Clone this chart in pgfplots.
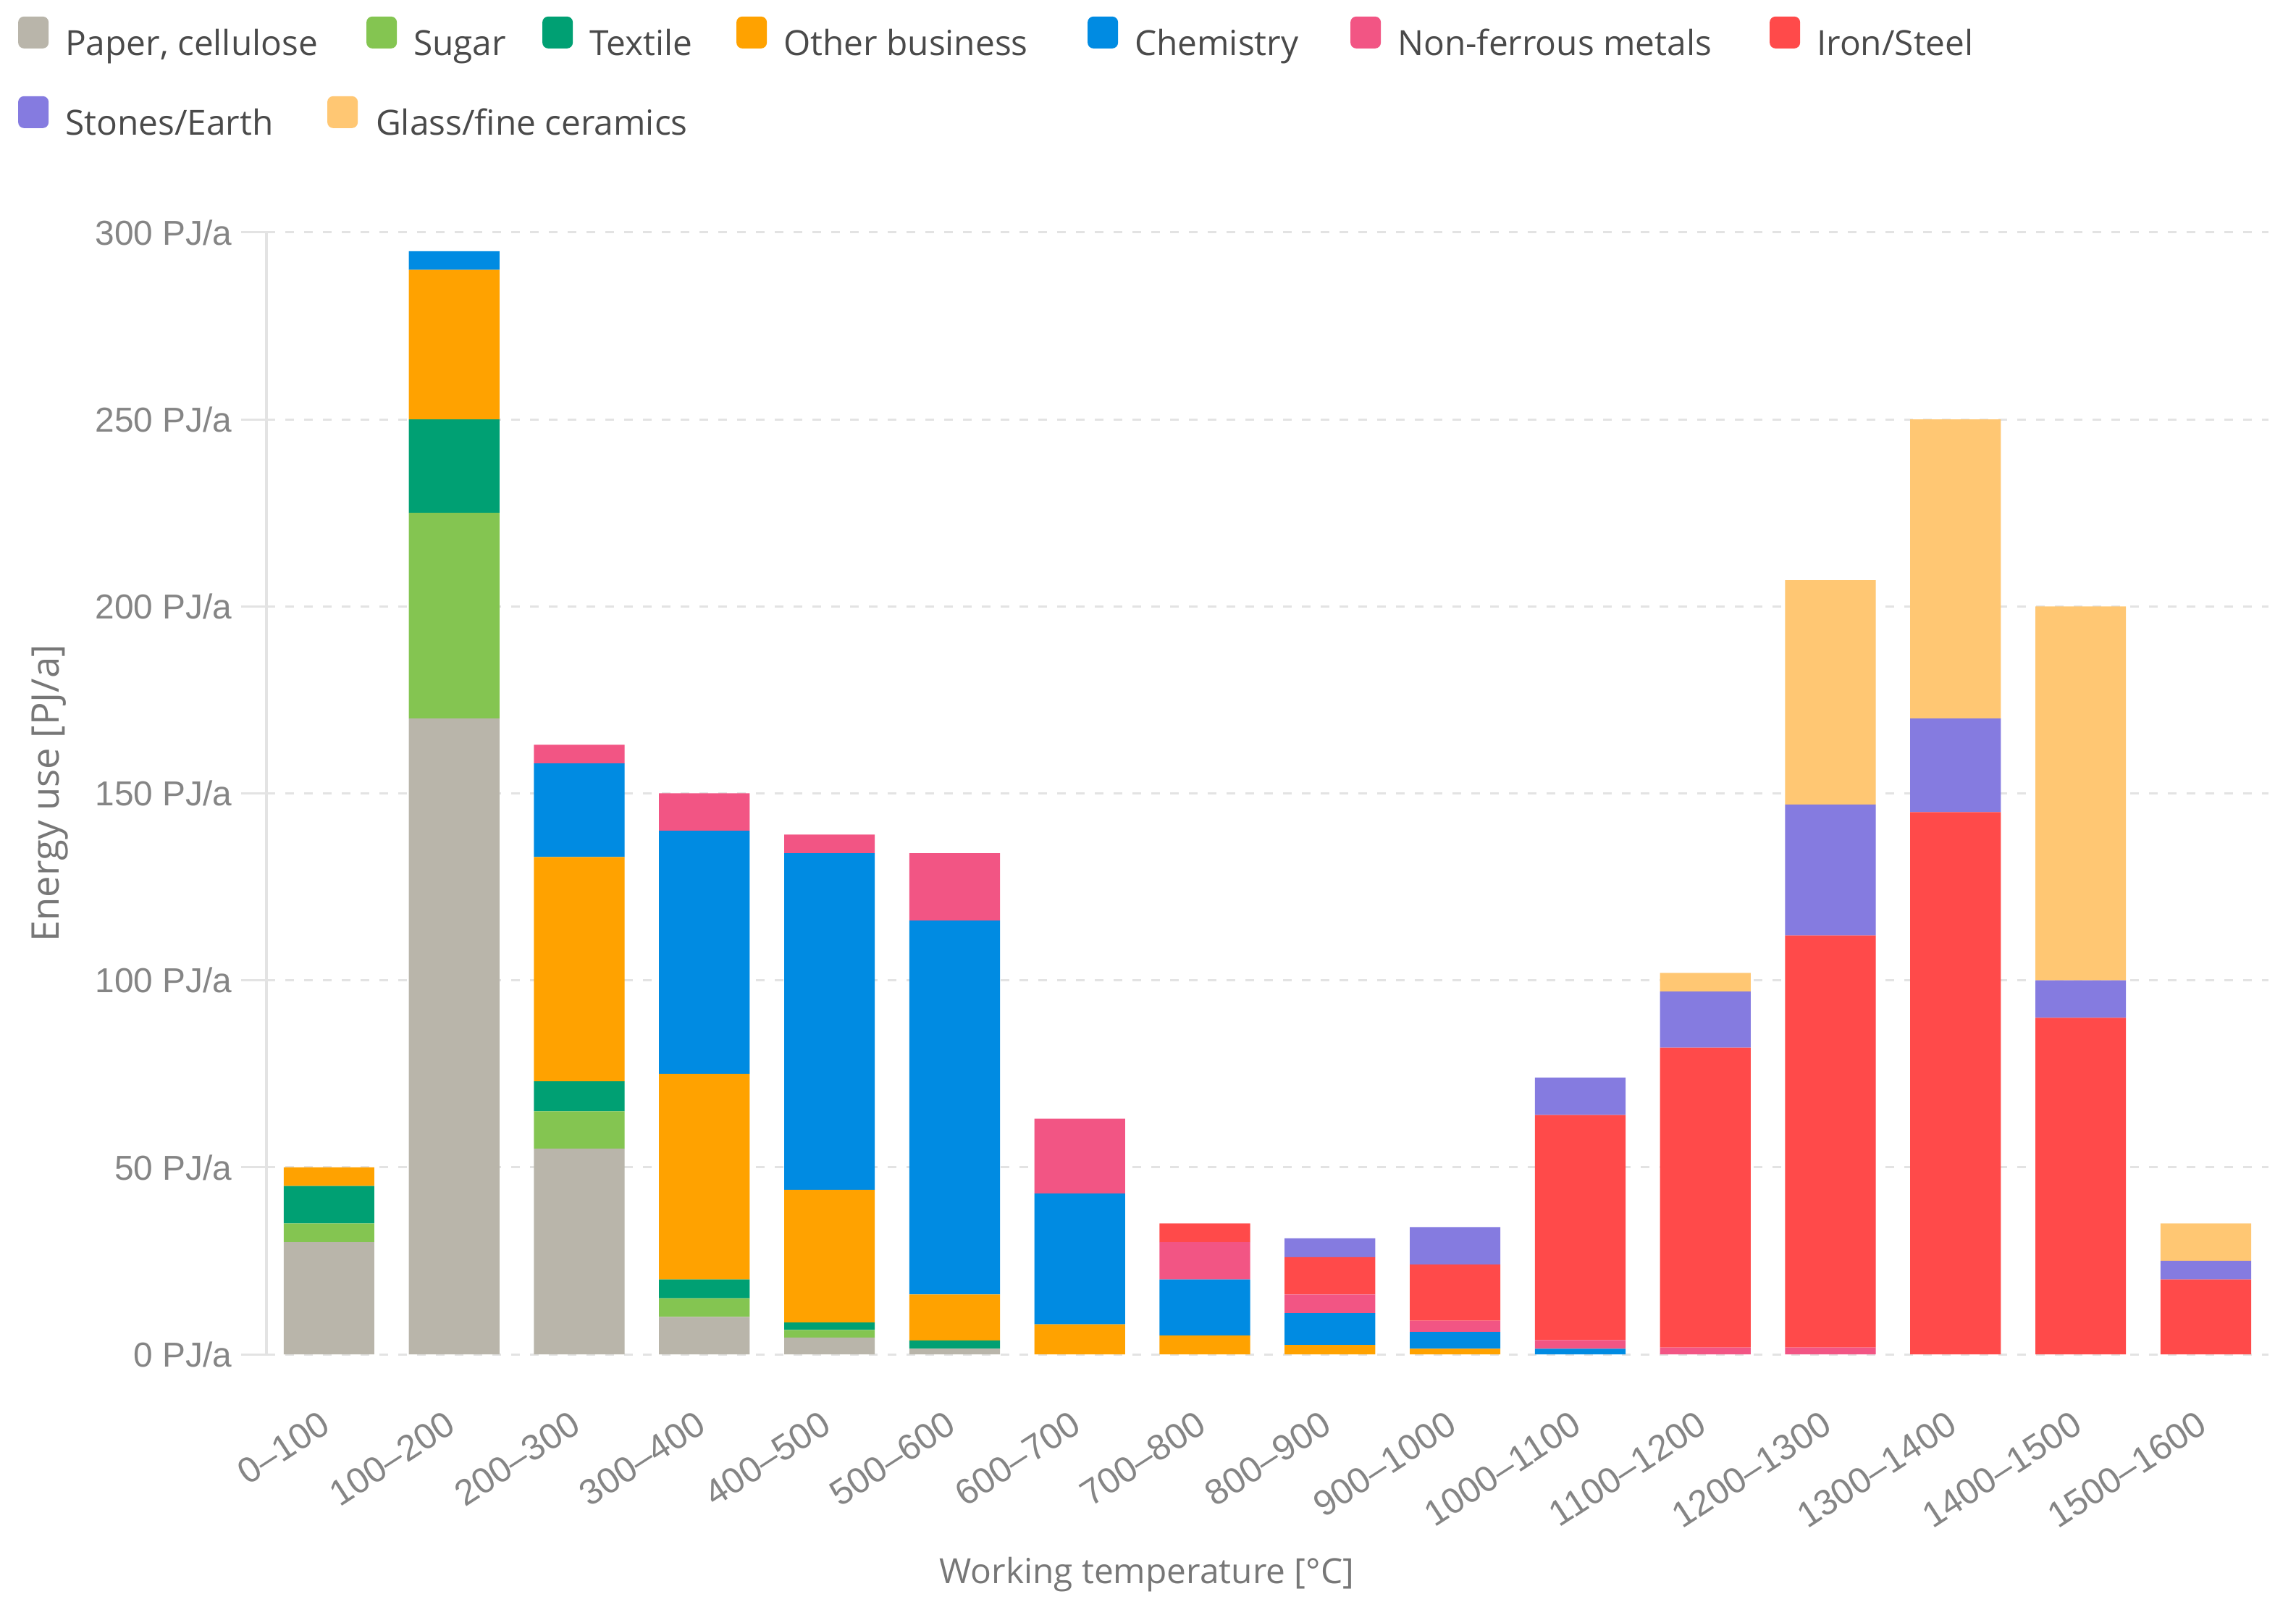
\documentclass[border=0pt]{standalone}
\usepackage{pgfplots}
\pgfplotsset{compat=1.18}
\usepackage{fontspec}
\setmainfont{Open Sans}
\newfontfamily\tickfont{Liberation Sans}
\definecolor{cPaper}{HTML}{B9B5AA}
\definecolor{cSugar}{HTML}{84C551}
\definecolor{cTextile}{HTML}{00A073}
\definecolor{cOther}{HTML}{FFA200}
\definecolor{cChem}{HTML}{008BE2}
\definecolor{cNF}{HTML}{F25584}
\definecolor{cIron}{HTML}{FF4A4A}
\definecolor{cStones}{HTML}{857BE0}
\definecolor{cGlass}{HTML}{FFC773}
\definecolor{gridc}{HTML}{E3E3E3}
\definecolor{tickc}{HTML}{858585}
\definecolor{titlec}{HTML}{777777}
\definecolor{legc}{HTML}{4A4A4A}
\pgfplotsset{sqleg/.style={legend image code/.code={\fill[##1, rounded corners=2bp] (0bp,-0.8bp) rectangle (10.5bp,10.2bp);}},
  sqlegshift/.style={legend image code/.code={\fill[##1, overlay, rounded corners=2bp] (-13.5bp,-0.8bp) rectangle (-3bp,10.2bp);}}}
\begin{document}
\begin{tikzpicture}
\useasboundingbox (-92bp,-90bp) rectangle (700.75bp,467.5bp);
\begin{axis}[
  scale only axis, width=691.2bp, height=387.25bp,
  at={(0,0)}, anchor=south west,
  xmin=-0.5, xmax=15.5, ymin=0, ymax=300,
  ybar stacked, bar width=31.3bp,
  axis lines*=left,
  x axis line style={draw=none},
  y axis line style={draw=gridc, line width=1bp},
  ymajorgrids,
  major grid style={draw=gridc, line width=0.75bp, dash pattern=on 3bp off 3.5bp},
  xtick={0,...,15},
  xticklabels={0–100,100–200,200–300,300–400,400–500,500–600,600–700,700–800,800–900,900–1000,1000–1100,1100–1200,1200–1300,1300–1400,1400–1500,1500–1600},
  x tick style={draw=none},
  xticklabel style={xshift=-3.5bp, yshift=-10.1bp, rotate=33, anchor=north east, inner sep=0pt, font=\tickfont\fontsize{12.5}{14}\selectfont, text=tickc},
  ytick={0,50,100,150,200,250,300},
  yticklabels={0 PJ/a,50 PJ/a,100 PJ/a,150 PJ/a,200 PJ/a,250 PJ/a,300 PJ/a},
  y tick style={draw=gridc, line width=0.75bp},
  major tick length=8.75bp, tick align=outside,
  yticklabel style={anchor=base east, inner sep=0pt, xshift=-3bp, yshift=-4.3bp, font=\tickfont\fontsize{12}{14}\selectfont, text=tickc},
  xlabel={Working temperature [°C]},
  xlabel style={at={(axis description cs:0.4397,-0.1963)}, anchor=center, font=\fontsize{12}{14}\selectfont, text=titlec},
  ylabel={Energy use [PJ/a]},
  ylabel style={at={(axis description cs:-0.108,0.5)}, anchor=center, font=\fontsize{13.2}{15}\selectfont, text=titlec},
  legend columns=7,
  legend cell align=left,
  legend style={at={(-0.1243,1.193)}, anchor=north west, draw=none, fill=none, inner sep=0pt,
    column sep=5.75bp, row sep=11.6bp,
    /tikz/every even column/.append style={column sep=0pt},
    font=\fontsize{12}{14}\selectfont, text=legc,
    nodes={inner sep=0pt, text height=8.8bp, text depth=2.6bp}},
]
\addplot[fill=cPaper, draw=none, sqleg] coordinates {(0,30)(1,170)(2,55)(3,10)(4,4.5)(5,1.5)(6,0)(7,0)(8,0)(9,0)(10,0)(11,0)(12,0)(13,0)(14,0)(15,0)};
\addlegendentry{\makebox[104bp][l]{Paper, cellulose}}
\addplot[fill=cSugar, draw=none, sqleg] coordinates {(0,5)(1,55)(2,10)(3,5)(4,2)(5,0)(6,0)(7,0)(8,0)(9,0)(10,0)(11,0)(12,0)(13,0)(14,0)(15,0)};
\addlegendentry{\makebox[44.5bp][l]{Sugar}}
\addplot[fill=cTextile, draw=none, sqleg] coordinates {(0,10)(1,25)(2,8)(3,5)(4,2)(5,2.2)(6,0)(7,0)(8,0)(9,0)(10,0)(11,0)(12,0)(13,0)(14,0)(15,0)};
\addlegendentry{\makebox[50.75bp][l]{Textile}}
\addplot[fill=cOther, draw=none, sqleg] coordinates {(0,5)(1,40)(2,60)(3,55)(4,35.5)(5,12.3)(6,8)(7,5)(8,2.5)(9,1.5)(10,0)(11,0)(12,0)(13,0)(14,0)(15,0)};
\addlegendentry{\makebox[105bp][l]{Other business}}
\addplot[fill=cChem, draw=none, sqleg] coordinates {(0,0)(1,5)(2,25)(3,65)(4,90)(5,100)(6,35)(7,15)(8,8.5)(9,4.5)(10,1.5)(11,0)(12,0)(13,0)(14,0)(15,0)};
\addlegendentry{\makebox[74.5bp][l]{Chemistry}}
\addplot[fill=cNF, draw=none, sqleg] coordinates {(0,0)(1,0)(2,5)(3,10)(4,5)(5,18)(6,20)(7,10)(8,5)(9,3)(10,2.3)(11,1.8)(12,1.8)(13,0)(14,0)(15,0)};
\addlegendentry{\makebox[128.5bp][l]{Non-ferrous metals}}
\addplot[fill=cIron, draw=none, sqleg] coordinates {(0,0)(1,0)(2,0)(3,0)(4,0)(5,0)(6,0)(7,5)(8,10)(9,15)(10,60.2)(11,80.2)(12,110.2)(13,145)(14,90)(15,20)};
\addlegendentry{Iron/Steel}
\addplot[fill=cStones, draw=none, sqleg] coordinates {(0,0)(1,0)(2,0)(3,0)(4,0)(5,0)(6,0)(7,0)(8,5)(9,10)(10,10)(11,15)(12,35)(13,25)(14,10)(15,5)};
\addlegendentry{Stones/Earth}
\addplot[fill=cGlass, draw=none, sqlegshift] coordinates {(0,0)(1,0)(2,0)(3,0)(4,0)(5,0)(6,0)(7,0)(8,0)(9,0)(10,0)(11,5)(12,60)(13,80)(14,100)(15,10)};
\addlegendentry{\rlap{\hspace*{-13.5bp}Glass/fine ceramics}}
\end{axis}
\end{tikzpicture}
\end{document}
